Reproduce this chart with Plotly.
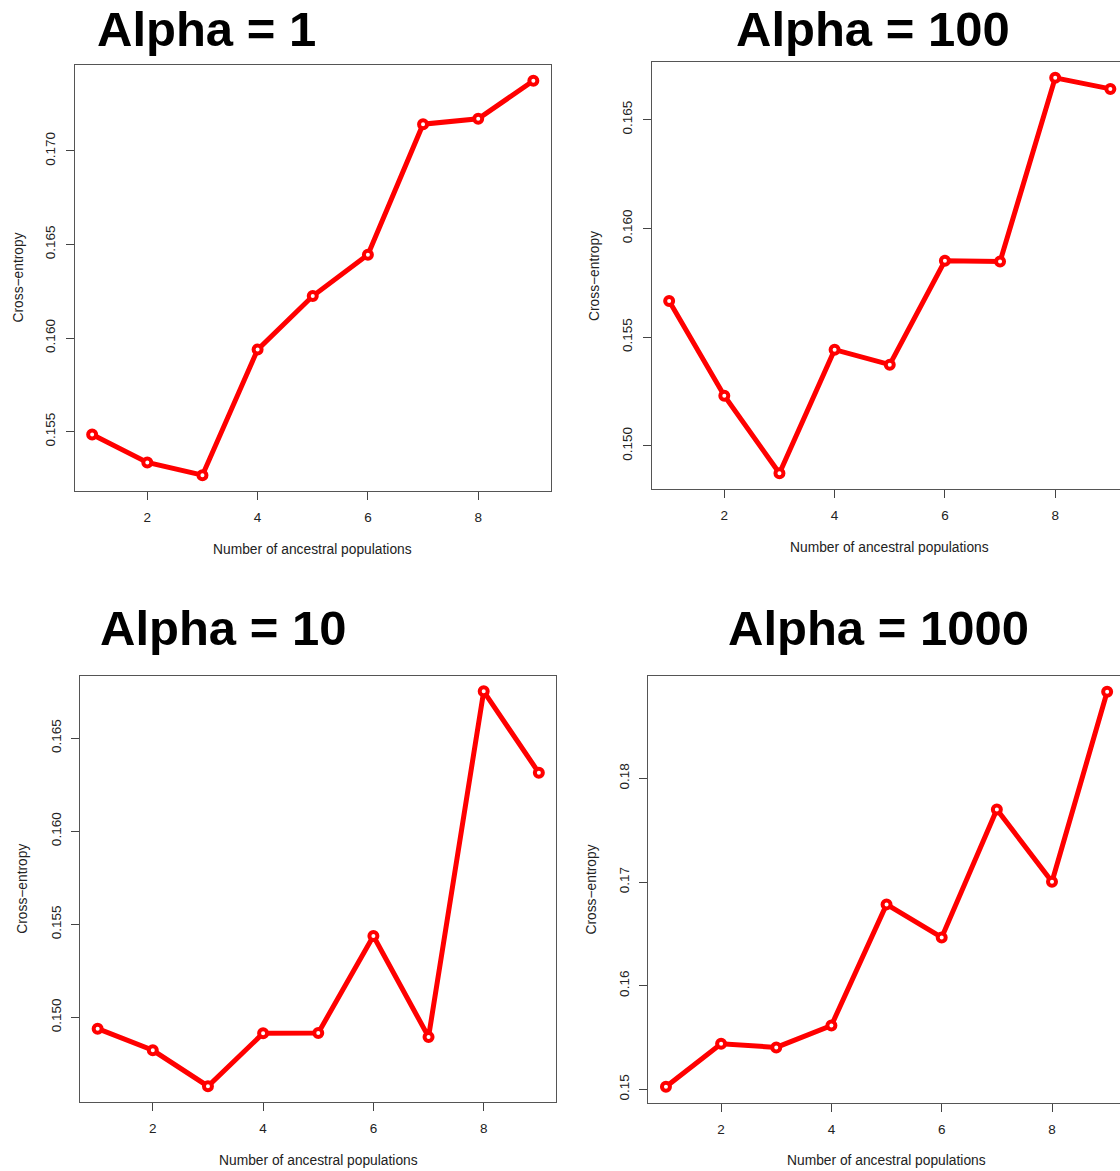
import plotly.graph_objects as go

# ---- data ----
k_values = [1, 2, 3, 4, 5, 6, 7, 8, 9]
titles = ["Alpha = 1", "Alpha = 100", "Alpha = 10", "Alpha = 1000"]
ce_alpha1 = [0.15484, 0.15335, 0.15267, 0.15938, 0.16224, 0.16445, 0.17142, 0.17171, 0.17374]
ce_alpha100 = [0.15666, 0.15230, 0.14874, 0.15442, 0.15373, 0.15851, 0.15847, 0.16692, 0.16641]
ce_alpha10 = [0.14939, 0.14823, 0.14630, 0.14914, 0.14916, 0.15437, 0.14895, 0.16752, 0.16314]
ce_alpha1000 = [0.15026, 0.15441, 0.15405, 0.15617, 0.16785, 0.16466, 0.17701, 0.17003, 0.18836]
x_ticks = [2, 4, 6, 8]
y_dticks = [0.005, 0.005, 0.005, 0.01]
y_formats = [".3f", ".3f", ".3f", ".2f"]
series = [ce_alpha1, ce_alpha100, ce_alpha10, ce_alpha1000]

# ---- layout geometry (pixels) ----
W, H = 1120, 1171
UNIT = 55.15  # px per x unit
geom = [
    dict(left=74.5, top=65.0, bottom=491.0, tx=95.0, ty=29.0),
    dict(left=651.5, top=62.0, bottom=489.0, tx=734.0, ty=29.0),
    dict(left=80.0, top=675.5, bottom=1102.0, tx=98.0, ty=628.0),
    dict(left=648.3, top=676.0, bottom=1102.5, tx=726.0, ty=628.0),
]
FONT = "Liberation Sans, Arial, Helvetica, sans-serif"

fig = go.Figure()
annotations = []

for i, (ys, g) in enumerate(zip(series, geom)):
    n = i + 1
    xa = "xaxis" if n == 1 else f"xaxis{n}"
    ya = "yaxis" if n == 1 else f"yaxis{n}"
    xr = "x" if n == 1 else f"x{n}"
    yr = "y" if n == 1 else f"y{n}"

    # R-style 4% axis extension
    xmin, xmax = min(k_values), max(k_values)
    xpad = 0.04 * (xmax - xmin)
    x0 = xmin - xpad
    full_w = (xmax - xmin + 2 * xpad) * UNIT
    right = min(g["left"] + full_w, W)
    x1 = x0 + (right - g["left"]) / UNIT
    clipped = right < g["left"] + full_w - 0.5

    ymin, ymax = min(ys), max(ys)
    ypad = 0.04 * (ymax - ymin)

    fig.add_trace(go.Scatter(
        x=k_values, y=ys, xaxis=xr, yaxis=yr, mode="lines+markers",
        line=dict(color="#ff0000", width=5),
        marker=dict(symbol="circle", size=8, color="white",
                    line=dict(color="#ff0000", width=4)),
        showlegend=False, cliponaxis=False, hoverinfo="skip",
    ))

    fig.update_layout(**{
        xa: dict(
            domain=[g["left"] / W, right / W], range=[x0, x1],
            anchor=yr, tickmode="array", tickvals=x_ticks,
            showgrid=False, zeroline=False,
            showline=True, linecolor="#555", linewidth=1, mirror=True,
            ticks="outside", ticklen=8, tickwidth=1, tickcolor="#444",
            tickfont=dict(family=FONT, size=13.5, color="#222"),
            ticklabelstandoff=6,
        ),
        ya: dict(
            domain=[1 - g["bottom"] / H, 1 - g["top"] / H],
            range=[ymin - ypad, ymax + ypad], anchor=xr,
            dtick=y_dticks[i], tick0=0, tickformat=y_formats[i],
            tickangle=-90,
            showgrid=False, zeroline=False,
            showline=True, linecolor="#555", linewidth=1,
            mirror=(False if clipped else True),
            ticks="outside", ticklen=8, tickwidth=1, tickcolor="#444",
            tickfont=dict(family=FONT, size=13.5, color="#222"),
            ticklabelstandoff=5,
        ),
    })

    box_cx = g["left"] + full_w / 2
    box_cy = (g["top"] + g["bottom"]) / 2
    annotations.append(dict(
        text="<b>" + titles[i] + "</b>", xref="paper", yref="paper",
        x=g["tx"] / W, y=1 - g["ty"] / H, xanchor="left", yanchor="middle",
        showarrow=False, font=dict(family=FONT, size=49, color="black"),
    ))
    annotations.append(dict(
        text="Number of ancestral populations", xref="paper", yref="paper",
        x=box_cx / W, y=1 - (g["bottom"] + 58) / H,
        xanchor="center", yanchor="middle", showarrow=False,
        font=dict(family=FONT, size=13.8, color="#222"),
    ))
    annotations.append(dict(
        text="Cross\u2212entropy", xref="paper", yref="paper",
        x=(g["left"] - 57) / W, y=1 - box_cy / H, textangle=-90,
        xanchor="center", yanchor="middle", showarrow=False,
        font=dict(family=FONT, size=13.8, color="#222"),
    ))

fig.update_layout(
    width=W, height=H, autosize=False,
    margin=dict(l=0, r=0, t=0, b=0),
    paper_bgcolor="white", plot_bgcolor="white",
    annotations=annotations,
    hovermode=False,
)

fig.write_html(
    "out.html",
    config={"displayModeBar": False},
    post_script="document.body.style.margin='0';document.body.style.padding='0';document.body.style.overflow='hidden';",
)
